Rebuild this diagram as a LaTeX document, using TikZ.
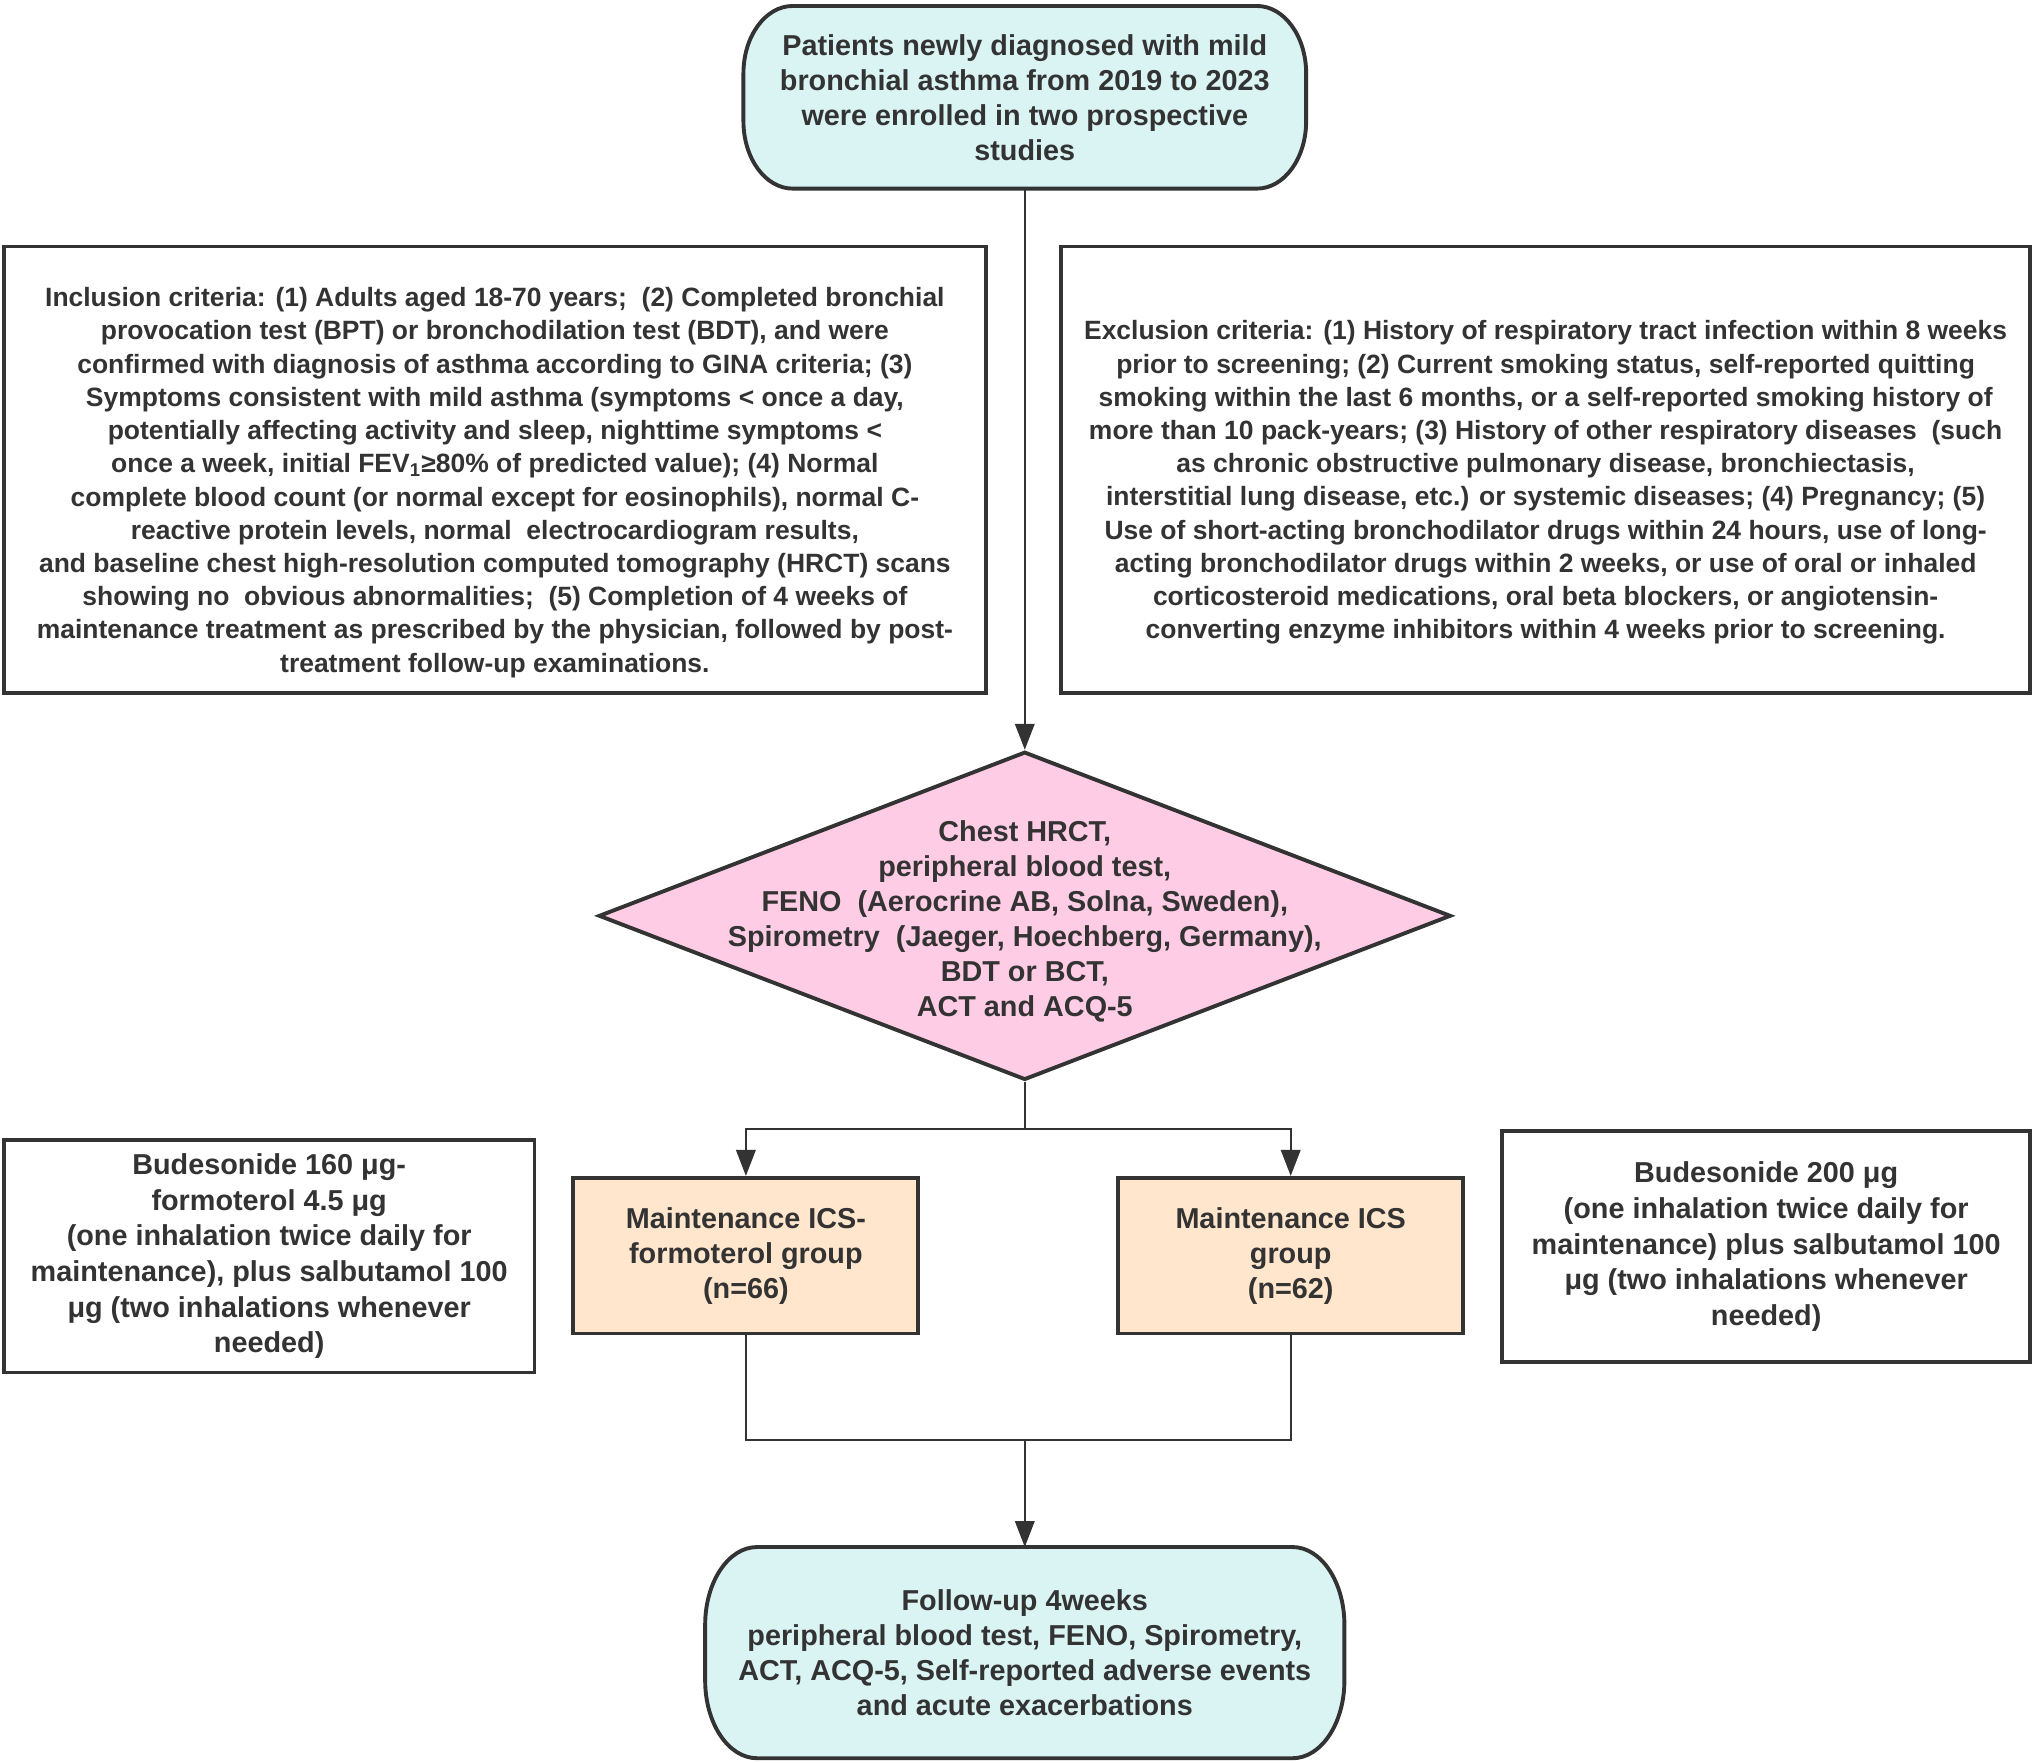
\documentclass[tikz,border=0pt]{standalone}
\usepackage{fontspec}
\setmainfont{Liberation Sans}
\usetikzlibrary{arrows.meta,shapes.geometric,calc}
\pgfdeclarelayer{background}
\pgfsetlayers{background,main}
\definecolor{ink}{HTML}{333333}
\definecolor{cyanfill}{HTML}{DAF3F3}
\definecolor{pinkfill}{HTML}{FFCCE6}
\definecolor{peachfill}{HTML}{FFE6CC}
\newcommand\termpath[3]{%
  \begin{pgfonlayer}{background}
  \draw[termline] ($(#1.north west)+(#2,0)$) -- ($(#1.north east)+(-#2,0)$)
    arc[start angle=90,end angle=0,x radius=#2,y radius=#3]
    -- ($(#1.south east)+(0,#3)$)
    arc[start angle=0,end angle=-90,x radius=#2,y radius=#3]
    -- ($(#1.south west)+(#2,0)$)
    arc[start angle=270,end angle=180,x radius=#2,y radius=#3]
    -- ($(#1.north west)+(0,-#3)$)
    arc[start angle=180,end angle=90,x radius=#2,y radius=#3] -- cycle;
  \end{pgfonlayer}}
\tikzset{
  every node/.style={text=ink,font=\bfseries\fontsize{11.1}{13.5}\selectfont,align=center},
  termnode/.style={inner sep=0pt},
  termline/.style={draw=ink,line width=1.5pt,fill=cyanfill},
  critbox/.style={draw=ink,line width=1.5pt,fill=white,inner sep=0pt},
  crittext/.style={inner sep=0pt,font=\bfseries\fontsize{10.2}{12.8}\selectfont},
  infobox/.style={draw=ink,line width=1.5pt,fill=white,inner sep=0pt,
    font=\bfseries\fontsize{11.1}{13.75}\selectfont},
  groupbox/.style={draw=ink,line width=1.5pt,fill=peachfill,inner sep=0pt},
  decbox/.style={diamond,draw=ink,line width=1.5pt,fill=pinkfill,inner sep=0pt},
  conn/.style={draw=ink,line width=0.8pt},
  arr/.style={conn,-{Triangle[width=7.5pt,length=10pt]}}
}
\begin{document}
\begin{tikzpicture}[x=0.5pt,y=0.5pt]
\useasboundingbox (0,0) rectangle (1568,-1359);

% top terminator
\node[termnode,minimum width=216.5pt,minimum height=70pt] (top) at (790,-75)
  {Patients newly diagnosed with mild\\bronchial asthma from 2019 to 2023\\were enrolled in two prospective\\studies};
\termpath{top}{19pt}{26pt}

% inclusion / exclusion
\node[critbox,minimum width=378.5pt,minimum height=172pt] (inc) at (381.5,-362) {};
\node[crittext] (inctext) at ($(inc.center)+(0,-10)$)
  {Inclusion criteria: (1) Adults aged 18-70 years;~ (2) Completed bronchial\\
   provocation test (BPT) or bronchodilation test (BDT), and were\\
   confirmed with diagnosis of asthma according to GINA criteria; (3)\\
   Symptoms consistent with mild asthma (symptoms < once a day,\\
   potentially affecting activity and sleep, nighttime symptoms <\\
   once a week, initial FEV\textsubscript{1}≥80\% of predicted value); (4) Normal\\
   complete blood count (or normal except for eosinophils), normal C-\\
   reactive protein levels, normal~ electrocardiogram results,\\
   and baseline chest high-resolution computed tomography (HRCT) scans\\
   showing no~ obvious abnormalities;~ (5) Completion of 4 weeks of\\
   maintenance treatment as prescribed by the physician, followed by post-\\
   treatment follow-up examinations.};
\node[critbox,minimum width=373.5pt,minimum height=172pt] (exc) at (1191.5,-362) {};
\node[crittext] (exctext) at ($(exc.center)+(0,-10)$)
  {Exclusion criteria: (1) History of respiratory tract infection within 8 weeks\\
   prior to screening; (2) Current smoking status, self-reported quitting\\
   smoking within the last 6 months, or a self-reported smoking history of\\
   more than 10 pack-years; (3) History of other respiratory diseases~ (such\\
   as chronic obstructive pulmonary disease, bronchiectasis,\\
   interstitial lung disease, etc.) or systemic diseases; (4) Pregnancy; (5)\\
   Use of short-acting bronchodilator drugs within 24 hours, use of long-\\
   acting bronchodilator drugs within 2 weeks, or use of oral or inhaled\\
   corticosteroid medications, oral beta blockers, or angiotensin-\\
   converting enzyme inhibitors within 4 weeks prior to screening.};

% diamond
\node[decbox,minimum width=328.5pt,minimum height=126.5pt] (dia) at (790,-706) {};
\node[inner sep=0pt] (diatext) at ($(dia.center)+(0,-4)$)
  {Chest HRCT,\\peripheral blood test,\\FENO~ (Aerocrine AB, Solna, Sweden),\\
   Spirometry~ (Jaeger, Hoechberg, Germany),\\BDT or BCT,\\ACT and ACQ-5};

% group boxes
\node[groupbox,minimum width=133pt,minimum height=60pt] (g1) at (575,-968)
  {Maintenance ICS-\\formoterol group\\(n=66)};
\node[groupbox,minimum width=133pt,minimum height=60pt] (g2) at (995,-968)
  {Maintenance ICS\\group\\(n=62)};

% info boxes
\node[infobox,minimum width=204.5pt,minimum height=89.5pt] (info1) at (207.5,-968.5)
  {Budesonide 160 μg-\\formoterol 4.5 μg\\(one inhalation twice daily for\\
   maintenance), plus salbutamol 100\\μg (two inhalations whenever\\needed)};
\node[infobox,minimum width=203.5pt,minimum height=89pt] (info2) at (1361.5,-961)
  {Budesonide 200 μg\\(one inhalation twice daily for\\maintenance) plus salbutamol 100\\
   μg (two inhalations whenever\\needed)};

% bottom terminator
\node[termnode,minimum width=246pt,minimum height=81pt] (bot) at (790,-1274)
  {Follow-up 4weeks\\peripheral blood test, FENO, Spirometry,\\
   ACT, ACQ-5, Self-reported adverse events\\and acute exacerbations};
\termpath{bot}{20pt}{30pt}

% connectors
\coordinate (split) at (790,-870);
\coordinate (merge) at (790,-1110);
\draw[arr] (top.south) -- (dia.north);
\draw[conn] (dia.south) -- (split);
\draw[arr] (split) -| (g1.north);
\draw[arr] (split) -| (g2.north);
\draw[conn] (g1.south) |- (merge);
\draw[conn] (g2.south) |- (merge);
\draw[arr] (merge) -- (bot.north);
\end{tikzpicture}
\end{document}
